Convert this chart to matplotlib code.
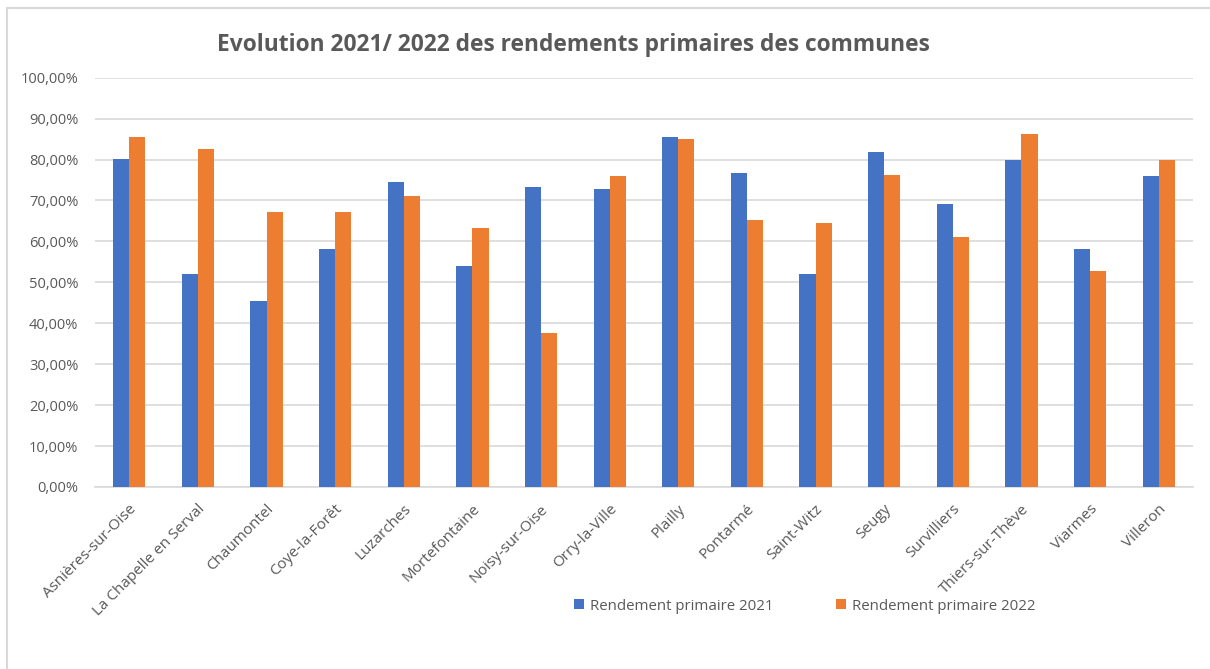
import matplotlib
matplotlib.use("Agg")
import matplotlib.pyplot as plt
import matplotlib.transforms as mtransforms
import numpy as np
from matplotlib.ticker import FuncFormatter

communes = ["Asnières-sur-Oise", "La Chapelle en Serval", "Chaumontel", "Coye-la-Forêt",
            "Luzarches", "Mortefontaine", "Noisy-sur-Oise", "Orry-la-Ville", "Plailly",
            "Pontarmé", "Saint-Witz", "Seugy", "Survilliers", "Thiers-sur-Thève",
            "Viarmes", "Villeron"]
rend_2021 = [0.802, 0.520, 0.454, 0.582, 0.746, 0.540, 0.732, 0.729, 0.854,
             0.766, 0.520, 0.819, 0.691, 0.798, 0.582, 0.761]
rend_2022 = [0.854, 0.827, 0.673, 0.673, 0.711, 0.634, 0.376, 0.761, 0.851,
             0.652, 0.645, 0.763, 0.610, 0.862, 0.527, 0.798]
series_names = ["Rendement primaire 2021", "Rendement primaire 2022"]
title = "Evolution 2021/ 2022 des rendements primaires des communes"

plt.rcParams['font.family'] = ['Open Sans', 'DejaVu Sans']
GRAY = "#595959"
BLUE = "#4472C4"
ORANGE = "#ED7D31"

W, H = 1210, 669
fig = plt.figure(figsize=(W / 100, H / 100), dpi=100)
fig.patch.set_facecolor("white")

# chart border (top and left visible)
fig.add_artist(plt.Line2D([7 / W, 7 / W], [0, 1 - 8 / H], transform=fig.transFigure,
                          color="#D9D9D9", lw=1.5))
fig.add_artist(plt.Line2D([7 / W, 1], [1 - 8 / H, 1 - 8 / H], transform=fig.transFigure,
                          color="#D9D9D9", lw=1.5))

left, right = 95 / W, 1193 / W
bottom, top = 1 - 487 / H, 1 - 77.7 / H
ax = fig.add_axes([left, bottom, right - left, top - bottom])

x = np.arange(len(communes))
bw = 0.235
ax.bar(x - bw / 2, rend_2021, width=bw, color=BLUE, label=series_names[0], zorder=3)
ax.bar(x + bw / 2, rend_2022, width=bw, color=ORANGE, label=series_names[1], zorder=3)

ax.set_xlim(-0.5, len(communes) - 0.5)
ax.set_ylim(0, 1.0)
ax.set_yticks(np.arange(0, 1.01, 0.1))
ax.yaxis.set_major_formatter(FuncFormatter(lambda v, p: f"{v*100:.2f}%".replace(".", ",")))
ax.grid(axis="y", color="#D9D9D9", lw=1.2, zorder=0)
for s in ["top", "right", "left"]:
    ax.spines[s].set_visible(False)
ax.spines["bottom"].set_color("#D9D9D9")
ax.spines["bottom"].set_linewidth(1.2)
ax.tick_params(axis="both", length=0, colors=GRAY)
ax.tick_params(axis="y", pad=12, labelsize=10.5)
ax.set_xticks(x)
ax.set_xticklabels(communes, rotation=45, ha="right", va="center",
                   rotation_mode="anchor", color=GRAY, fontsize=11)
ax.tick_params(axis="x", pad=0)
offset = mtransforms.ScaledTranslation(5 / 100, -20 / 100, fig.dpi_scale_trans)
for lab in ax.get_xticklabels():
    lab.set_transform(lab.get_transform() + offset)

fig.text(573 / W, 1 - 45 / H, title, ha="center", va="center", fontsize=16.4,
         fontweight="bold", color=GRAY)

leg = fig.legend(loc="center", bbox_to_anchor=(805 / W, 1 - 606 / H), ncol=2,
                 frameon=False, fontsize=10.8, handlelength=0.65, handleheight=0.65,
                 columnspacing=4.2, handletextpad=0.4)
for t in leg.get_texts():
    t.set_color(GRAY)

fig.savefig("out.png", dpi=100, facecolor="white")
